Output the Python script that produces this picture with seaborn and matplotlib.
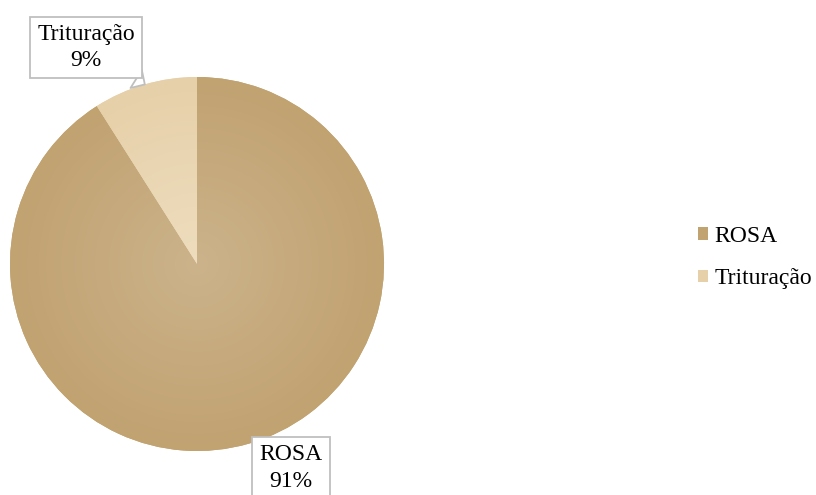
import numpy as np
import matplotlib
matplotlib.use("Agg")
import matplotlib.pyplot as plt
import seaborn as sns
from matplotlib.patches import Patch

sns.set_theme(style="white")
plt.rcParams["font.family"] = ["Liberation Serif", "DejaVu Serif"]
plt.rcParams["text.color"] = "black"

categories = ["ROSA", "Trituração"]
values = [91, 9]
outer_colors = ["#C1A271", "#E6D0A9"]
inner_colors = ["#CCB38B", "#EEDDBE"]

fig = plt.figure(figsize=(8.16, 4.95), dpi=100)
W, H = 816, 495
cx, cy, r = 197, 264, 187
ax = fig.add_axes([(cx - r) / W, (H - cy - r) / H, 2 * r / W, 2 * r / H])
ax.axis("off")

wedges, _ = ax.pie(values, colors=outer_colors, startangle=90, counterclock=False,
                   radius=1, center=(0, 0), frame=False,
                   wedgeprops=dict(linewidth=0))

# soft radial shading inside each wedge
n = 400
xs = np.linspace(-1, 1, n)
X, Y = np.meshgrid(xs, xs)
R = np.clip(np.sqrt(X ** 2 + Y ** 2), 0, 1)
for w, c0, c1 in zip(wedges, inner_colors, outer_colors):
    a = np.array(matplotlib.colors.to_rgb(c0))
    b = np.array(matplotlib.colors.to_rgb(c1))
    img = a[None, None, :] * (1 - R[..., None]) + b[None, None, :] * R[..., None]
    im = ax.imshow(img, extent=(-1, 1, -1, 1), origin="lower", zorder=w.get_zorder() + 0.1,
                   interpolation="bilinear")
    im.set_clip_path(w)
ax.set_xlim(-1, 1)
ax.set_ylim(-1, 1)
ax.set_aspect("equal")

# callout labels (the small slice gets a pointer tail)
total = sum(values)
label_pos = {"ROSA": (0.503, -1.09), "Trituração": (-0.594, 1.158)}
with_tail = {"ROSA": False, "Trituração": True}
start = 90.0
for cat, v in zip(categories, values):
    span = 360.0 * v / total
    mid = np.deg2rad(start - span / 2)
    start -= span
    tip = (np.cos(mid), np.sin(mid))
    arrow = None
    if with_tail[cat]:
        arrow = dict(arrowstyle="wedge,tail_width=0.9,shrink_factor=0.5",
                     fc="white", ec="#BFBFBF", lw=1.3, shrinkA=0, shrinkB=0)
    ax.annotate(f"{cat}\n{round(100 * v / total)}%", xy=tip, xytext=label_pos[cat],
                ha="center", va="center", fontsize=17, color="black",
                linespacing=1.35, annotation_clip=False, zorder=10,
                bbox=dict(boxstyle="square,pad=0.3", fc="white", ec="#BFBFBF", lw=1.3),
                arrowprops=arrow)

handles = [Patch(facecolor=c, edgecolor="none") for c in outer_colors]
fig.legend(handles, categories, loc="center left", bbox_to_anchor=(689 / W, 1 - 257.5 / H),
           frameon=False, fontsize=17, handlelength=0.42, handleheight=0.42,
           handletextpad=0.25, labelspacing=0.9, borderaxespad=0, labelcolor="black")

fig.savefig("out.png", dpi=100)
